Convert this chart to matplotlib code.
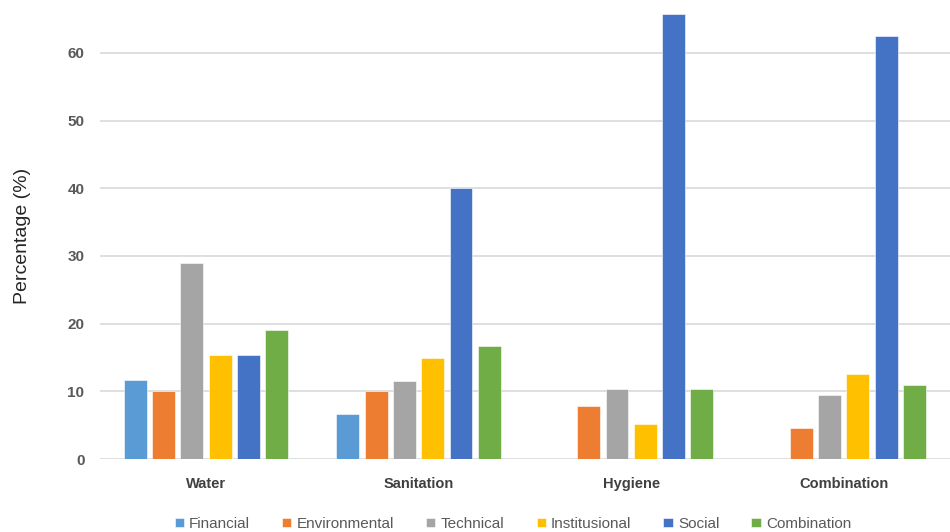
import numpy as np
import matplotlib.pyplot as plt

groups = ['Water', 'Sanitation', 'Hygiene', 'Combination']
series = ['Financial', 'Environmental', 'Technical', 'Institusional', 'Social', 'Combination']
colors = ['#5B9BD5', '#ED7D31', '#A5A5A5', '#FFC000', '#4472C4', '#70AD47']

financial = [11.7, 6.6, 0, 0]
environmental = [10.0, 10.0, 7.9, 4.6]
technical = [29.0, 11.6, 10.4, 9.4]
institusional = [15.4, 15.0, 5.2, 12.5]
social = [15.4, 40.0, 65.8, 62.5]
combination = [19.1, 16.7, 10.4, 10.9]
values = [financial, environmental, technical, institusional, social, combination]

plt.rcParams['font.family'] = ['Liberation Sans', 'DejaVu Sans']

fig = plt.figure(figsize=(9.5, 5.32), dpi=100)
ax = fig.add_axes([0.105, 0.137, 0.895, 0.84])

x = np.arange(len(groups))
pitch = 0.133
w = 0.108
for i, (name, vals, c) in enumerate(zip(series, values, colors)):
    off = (i - 2.5) * pitch
    ax.bar(x + off, vals, width=w, color=c, label=name, zorder=3,
           edgecolor='white', linewidth=0.4)

ax.set_xlim(-0.5, 3.5)
ax.set_ylim(0, 66)
ax.set_yticks(np.arange(0, 61, 10))
ax.grid(axis='y', color='#D9D9D9', linewidth=1.2, zorder=0)
for s in ax.spines.values():
    s.set_visible(False)
ax.tick_params(length=0)
ax.tick_params(axis='y', pad=11)
ax.tick_params(axis='x', pad=13)
ax.set_xticks(x)
ax.set_xticklabels(groups, fontsize=10.5, fontweight='bold', color='#404040')
for lab in ax.get_yticklabels():
    lab.set_fontsize(11)
    lab.set_fontweight('bold')
    lab.set_color('#595959')
ax.set_ylabel('Percentage (%)', fontsize=14, color='#262626', labelpad=26)

ax.legend(loc='center', bbox_to_anchor=(0.486, -0.145), ncol=6, frameon=False,
          fontsize=11, handlelength=0.6, handleheight=0.6, handletextpad=0.35,
          columnspacing=2.1, labelcolor='#595959')

fig.savefig('out.png', dpi=100)
